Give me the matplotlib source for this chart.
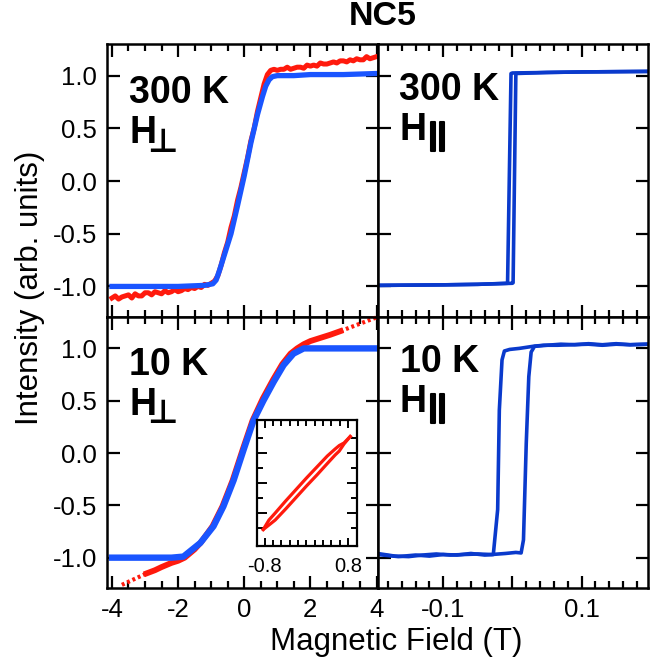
import matplotlib.pyplot as plt
import matplotlib.patheffects as pe
import numpy as np
from matplotlib.ticker import MultipleLocator, FixedLocator, NullFormatter

plt.rcParams['font.family'] = ['Liberation Sans', 'DejaVu Sans']

# ---- 300 K, H perpendicular (x in T) ----
blue300_x = [-4.0, -3.0, -2.0, -1.2, -0.95, -0.85, -0.75, -0.6, -0.4, -0.2, 0.0, 0.2, 0.4,
             0.55, 0.65, 0.75, 0.85, 1.0, 1.5, 2.0, 3.0, 4.0]
blue300_y = [-1.00, -1.00, -1.00, -0.99, -0.975, -0.94, -0.85, -0.70, -0.50, -0.23, 0.05, 0.36, 0.63,
             0.80, 0.90, 0.96, 0.99, 1.00, 1.00, 1.01, 1.01, 1.02]

red300_x = [-4.0, -3.9, -3.8, -3.7, -3.6, -3.5, -3.4, -3.3, -3.2, -3.1, -3.0, -2.9, -2.8, -2.7,
            -2.6, -2.5, -2.4, -2.3, -2.2, -2.1, -2.0, -1.9, -1.8, -1.7, -1.6, -1.5, -1.4, -1.3,
            -1.2, -1.1, -1.0, -0.9, -0.8, -0.7, -0.6, -0.5, -0.4, -0.3, -0.2, -0.1, 0.0, 0.1,
            0.2, 0.3, 0.4, 0.5, 0.6, 0.7, 0.8, 0.9, 1.0, 1.1, 1.2, 1.3, 1.4, 1.5, 1.6, 1.7,
            1.8, 1.9, 2.0, 2.1, 2.2, 2.3, 2.4, 2.5, 2.6, 2.7, 2.8, 2.9, 3.0, 3.1, 3.2, 3.3,
            3.4, 3.5, 3.6, 3.7, 3.8, 3.9, 4.0]
red300_y = [-1.11, -1.09, -1.12, -1.10, -1.09, -1.08, -1.11, -1.07, -1.09, -1.09, -1.06, -1.06,
            -1.08, -1.05, -1.06, -1.07, -1.04, -1.06, -1.05, -1.03, -1.05, -1.04, -1.02, -1.03,
            -1.01, -1.02, -1.00, -1.01, -0.98, -0.99, -0.97, -0.95, -0.90, -0.80, -0.68, -0.58,
            -0.44, -0.33, -0.18, -0.06, 0.08, 0.22, 0.38, 0.50, 0.66, 0.79, 0.92, 1.01, 1.05,
            1.06, 1.05, 1.06, 1.06, 1.08, 1.06, 1.07, 1.08, 1.08, 1.07, 1.10, 1.09, 1.10, 1.09,
            1.12, 1.11, 1.11, 1.12, 1.13, 1.12, 1.14, 1.14, 1.13, 1.15, 1.14, 1.16, 1.15, 1.15,
            1.18, 1.16, 1.17, 1.18]

# ---- 10 K, H perpendicular ----
blue10_x = [-4.0, -3.0, -2.2, -1.84, -1.33, -0.93, -0.63, -0.32, -0.02, 0.28, 0.58, 0.89,
            1.19, 1.49, 1.80, 2.2, 3.0, 4.0]
blue10_y = [-1.00, -1.00, -1.00, -0.99, -0.86, -0.70, -0.51, -0.26, 0.03, 0.31, 0.50, 0.68,
            0.84, 0.95, 1.00, 1.00, 1.00, 1.00]

red10_x = [-2.95, -2.7, -2.5, -2.2, -2.0, -1.8, -1.5, -1.3, -0.96, -0.66, -0.35, -0.05, 0.25,
           0.56, 0.87, 1.15, 1.4, 1.6, 1.8, 2.0, 2.2, 2.4, 2.6, 2.91]
red10_y = [-1.15, -1.12, -1.09, -1.05, -1.03, -1.00, -0.92, -0.85, -0.70, -0.51, -0.26, 0.03,
           0.31, 0.52, 0.70, 0.85, 0.95, 1.00, 1.04, 1.07, 1.09, 1.11, 1.13, 1.165]
fit_lo_x = [-3.7, -2.95]
fit_lo_y = [-1.26, -1.15]
fit_hi_x = [2.91, 4.03]
fit_hi_y = [1.165, 1.30]

# inset: low-field loop at 10 K
inset_x = [-0.83, -0.72, -0.6, -0.4, -0.2, 0.0, 0.2, 0.4, 0.55, 0.63, 0.72, 0.84]
inset_up = [-0.93, -0.74, -0.60, -0.36, -0.13, 0.10, 0.32, 0.54, 0.68, 0.75, 0.80, 0.93]
inset_dn = [-0.93, -0.84, -0.74, -0.52, -0.29, -0.06, 0.16, 0.39, 0.56, 0.64, 0.78, 0.93]

# ---- 300 K, H parallel ----
par300_dn_x = [0.195, 0.1, 0.05, 0.0, -0.002, -0.007, -0.05, -0.1, -0.195]
par300_dn_y = [1.04, 1.035, 1.03, 1.025, 1.02, -0.97, -0.98, -0.985, -0.99]
par300_up_x = [-0.195, -0.1, -0.05, 0.0, 0.001, 0.005, 0.05, 0.1, 0.195]
par300_up_y = [-0.99, -0.985, -0.98, -0.97, -0.965, 1.02, 1.03, 1.035, 1.04]

# ---- 10 K, H parallel ----
par10_dn_x = [0.195, 0.17, 0.15, 0.13, 0.11, 0.085, 0.065, 0.045, 0.03, 0.01, -0.004, -0.0116,
              -0.015, -0.0189, -0.0213, -0.0276, -0.04, -0.06, -0.08, -0.1, -0.12, -0.14,
              -0.165, -0.195]
par10_dn_y = [1.04, 1.035, 1.04, 1.03, 1.04, 1.035, 1.03, 1.03, 1.02, 1.0, 0.99, 0.975, 0.89,
              0.41, -0.54, -0.97, -0.975, -0.96, -0.975, -0.97, -0.985, -0.975, -0.99, -0.97]
par10_up_x = [-0.195, -0.17, -0.15, -0.13, -0.11, -0.09, -0.07, -0.05, -0.03, -0.01, 0.005,
              0.0126, 0.016, 0.020, 0.0237, 0.0271, 0.032, 0.05, 0.07, 0.09, 0.11, 0.13, 0.15,
              0.17, 0.195]
par10_up_y = [-0.96, -0.985, -0.99, -0.975, -0.965, -0.975, -0.97, -0.965, -0.97, -0.96, -0.95,
              -0.955, -0.83, 0.09, 0.73, 0.965, 1.02, 1.03, 1.04, 1.035, 1.045, 1.035, 1.045,
              1.035, 1.04]

RED = '#ff1a0d'
BLUE = '#1a55ff'
DBLUE = '#0a3acc'

W, H = 661, 660


def fx(x):
    return x / W


def fy(y):
    return 1 - y / H


def style(ax):
    ax.tick_params(which='both', direction='in', top=True, right=True, width=1.6,
                   labelsize=18.5, pad=7)
    ax.tick_params(which='major', length=9)
    ax.tick_params(which='minor', length=5)
    for s in ax.spines.values():
        s.set_linewidth(1.8)


fig = plt.figure(figsize=(6.61, 6.60), dpi=100)

xl0, xl1, xr1 = 107, 377.5, 648
yt0, ym, yb1 = 44, 317, 588
ax_tl = fig.add_axes([fx(xl0), fy(ym), (xl1 - xl0) / W, (ym - yt0) / H])
ax_bl = fig.add_axes([fx(xl0), fy(yb1), (xl1 - xl0) / W, (yb1 - ym) / H])
ax_tr = fig.add_axes([fx(xl1), fy(ym), (xr1 - xl1) / W, (ym - yt0) / H])
ax_br = fig.add_axes([fx(xl1), fy(yb1), (xr1 - xl1) / W, (yb1 - ym) / H])

for ax in (ax_tl, ax_bl, ax_tr, ax_br):
    style(ax)
    ax.set_ylim(-1.29, 1.30)
    ax.yaxis.set_major_locator(FixedLocator([-1.0, -0.5, 0.0, 0.5, 1.0]))

for ax in (ax_tl, ax_bl):
    ax.set_xlim(-4.15, 4.03)
    ax.xaxis.set_major_locator(FixedLocator([-4, -2, 0, 2, 4]))
    ax.xaxis.set_minor_locator(MultipleLocator(0.5))
    ax.set_yticklabels(['-1.0', '-0.5', '0.0', '0.5', '1.0'])

for ax in (ax_tr, ax_br):
    ax.set_xlim(-0.195, 0.196)
    ax.xaxis.set_major_locator(FixedLocator([-0.1, 0.0, 0.1]))
    ax.xaxis.set_minor_locator(MultipleLocator(0.02))
    ax.yaxis.set_major_formatter(NullFormatter())

ax_tl.xaxis.set_major_formatter(NullFormatter())
ax_tr.xaxis.set_major_formatter(NullFormatter())
ax_bl.set_xticklabels(['-4', '-2', '0', '2', '4'])
ax_br.set_xticklabels(['-0.1', '', '0.1'])

# data
ax_tl.plot(red300_x, red300_y, color=RED, lw=3.6)
ax_tl.plot(blue300_x, blue300_y, color=BLUE, lw=3.8)

ax_bl.plot(fit_lo_x, fit_lo_y, color=RED, lw=3, ls=(0, (0.7, 0.7)))
ax_bl.plot(fit_hi_x, fit_hi_y, color=RED, lw=3, ls=(0, (0.7, 0.7)), clip_on=False)
ax_bl.plot(red10_x, red10_y, color=RED, lw=4.2)
ax_bl.plot(blue10_x, blue10_y, color=BLUE, lw=4.6)

ax_tr.plot(par300_dn_x, par300_dn_y, color=DBLUE, lw=2.6)
ax_tr.plot(par300_up_x, par300_up_y, color=DBLUE, lw=2.6)
ax_br.plot(par10_dn_x, par10_dn_y, color=DBLUE, lw=2.6)
ax_br.plot(par10_up_x, par10_up_y, color=DBLUE, lw=2.6)

# inset
ax_in = fig.add_axes([fx(257), fy(546), 100 / W, 126 / H])
ax_in.plot(inset_x, inset_up, color=RED, lw=2.3)
ax_in.plot(inset_x, inset_dn, color=RED, lw=2.3)
ax_in.set_xlim(-0.95, 0.97)
ax_in.set_ylim(-1.26, 1.26)
ax_in.xaxis.set_major_locator(FixedLocator([-0.8, 0.8]))
ax_in.xaxis.set_minor_locator(FixedLocator([-0.64, -0.48, -0.32, -0.16, 0.0, 0.16, 0.32, 0.48, 0.64]))
ax_in.set_xticklabels(['-0.8', '0.8'])
ax_in.yaxis.set_major_locator(FixedLocator([-0.6, 0.0, 0.6]))
ax_in.yaxis.set_minor_locator(FixedLocator([-0.9, -0.3, 0.3, 0.9]))
ax_in.yaxis.set_major_formatter(NullFormatter())
ax_in.tick_params(which='both', direction='in', top=True, right=True, width=1.4,
                  labelsize=14.5, pad=8)
ax_in.tick_params(which='major', length=6)
ax_in.tick_params(which='minor', length=4)
ax_in.tick_params(axis='y', which='major', length=7)
for s in ax_in.spines.values():
    s.set_linewidth(1.6)

# panel labels
big = dict(fontsize=27, fontweight='bold', ha='left', va='baseline')
fig.text(fx(129), fy(103), '300 K', **big)
fig.text(fx(129), fy(143), 'H', **big)
fig.text(fx(162), fy(152), '\u22a5', fontsize=24, fontweight='bold', ha='center',
         va='baseline', family=['DejaVu Sans'])
fig.text(fx(129), fy(375), '10 K', **big)
fig.text(fx(129), fy(415), 'H', **big)
fig.text(fx(162), fy(423), '\u22a5', fontsize=24, fontweight='bold', ha='center',
         va='baseline', family=['DejaVu Sans'])

bars = [pe.withStroke(linewidth=1.5, foreground='black')]
fig.text(fx(399), fy(100), '300 K', **big)
fig.text(fx(399), fy(140), 'H', **big)
fig.text(fx(437.5), fy(144), '||', fontsize=22, fontweight='bold', ha='center',
         va='baseline', path_effects=bars)
fig.text(fx(400), fy(372), '10 K', **big)
fig.text(fx(400), fy(412), 'H', **big)
fig.text(fx(437.5), fy(416), '||', fontsize=22, fontweight='bold', ha='center',
         va='baseline', path_effects=bars)

fig.text(fx(383), fy(25), 'NC5', fontsize=24.5, fontweight='bold', ha='center', va='baseline')
fig.text(fx(396.5), fy(650), 'Magnetic Field (T)', fontsize=22.5, ha='center', va='baseline')
fig.text(fx(38), fy(288), 'Intensity (arb. units)', fontsize=22.5, rotation=90,
         rotation_mode='anchor', ha='center', va='baseline')

fig.savefig('out.png', dpi=100)
